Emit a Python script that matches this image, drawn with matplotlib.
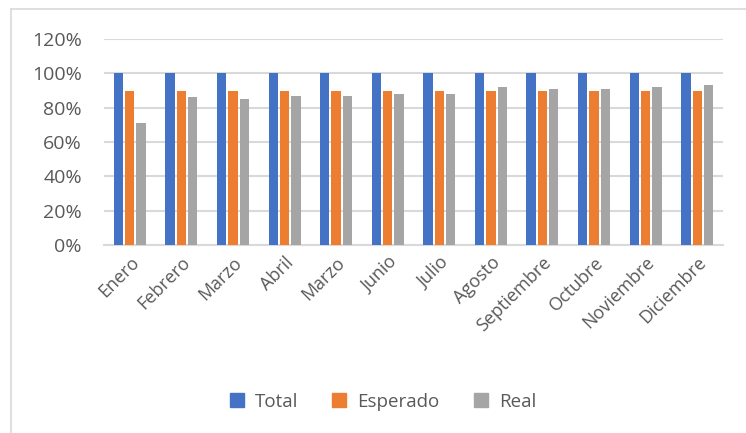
import matplotlib
matplotlib.use("Agg")
import matplotlib.pyplot as plt
import numpy as np
from matplotlib.ticker import PercentFormatter
from matplotlib.lines import Line2D

categories = ["Enero", "Febrero", "Marzo", "Abril", "Marzo", "Junio", "Julio",
              "Agosto", "Septiembre", "Octubre", "Noviembre", "Diciembre"]
total = [1.00] * 12
esperado = [0.90] * 12
real = [0.71, 0.86, 0.85, 0.87, 0.87, 0.88, 0.88, 0.92, 0.91, 0.91, 0.92, 0.93]
series_names = ["Total", "Esperado", "Real"]
colors = ["#4472C4", "#ED7D31", "#A5A5A5"]

plt.rcParams['font.family'] = ['Open Sans', 'DejaVu Sans']
text_color = "#595959"

fig = plt.figure(figsize=(7.46, 4.33), dpi=100)
ax = fig.add_axes([104/746, 1-245/433, (723-104)/746, (245-39)/433])

x = np.arange(len(categories))
w = 0.18
step = 0.22
for i, (vals, c) in enumerate(zip([total, esperado, real], colors)):
    ax.bar(x + (i-1)*step, vals, width=w, color=c, zorder=3, label=series_names[i])

ax.set_xlim(-0.5, len(categories)-0.5)
ax.set_ylim(0, 1.2)
ax.set_yticks(np.arange(0, 1.21, 0.2))
ax.yaxis.set_major_formatter(PercentFormatter(1.0, decimals=0))
ax.grid(axis='y', color='#D9D9D9', linewidth=1.5, zorder=0)
for s in ['top', 'right', 'left']:
    ax.spines[s].set_visible(False)
ax.spines['bottom'].set_color('#D9D9D9')
ax.spines['bottom'].set_linewidth(1.5)
ax.tick_params(axis='both', length=0, colors=text_color, labelsize=13)
ax.tick_params(axis='y', pad=16, labelsize=14)
ax.set_xticks(x)
ax.set_xticklabels(categories, rotation=45, ha='right', va='top', rotation_mode='anchor')
ax.tick_params(axis='x', pad=6)

handles = [Line2D([], [], marker='s', linestyle='none', markersize=9.5,
                  markerfacecolor=c, markeredgecolor=c) for c in colors]
fig.legend(handles, series_names, loc='center', bbox_to_anchor=(383/746, 1-402/433),
           ncol=3, frameon=False, fontsize=13.5, labelcolor=text_color,
           handlelength=0.75, handletextpad=0.6, columnspacing=1.8)

# chart border (partially cropped)
fig.add_artist(Line2D([11/746, 1], [1-9/433, 1-9/433], transform=fig.transFigure,
                      color='#D9D9D9', linewidth=1.2))
fig.add_artist(Line2D([11/746, 11/746], [0, 1-9/433], transform=fig.transFigure,
                      color='#D9D9D9', linewidth=1.2))

fig.savefig("out.png", dpi=100)
